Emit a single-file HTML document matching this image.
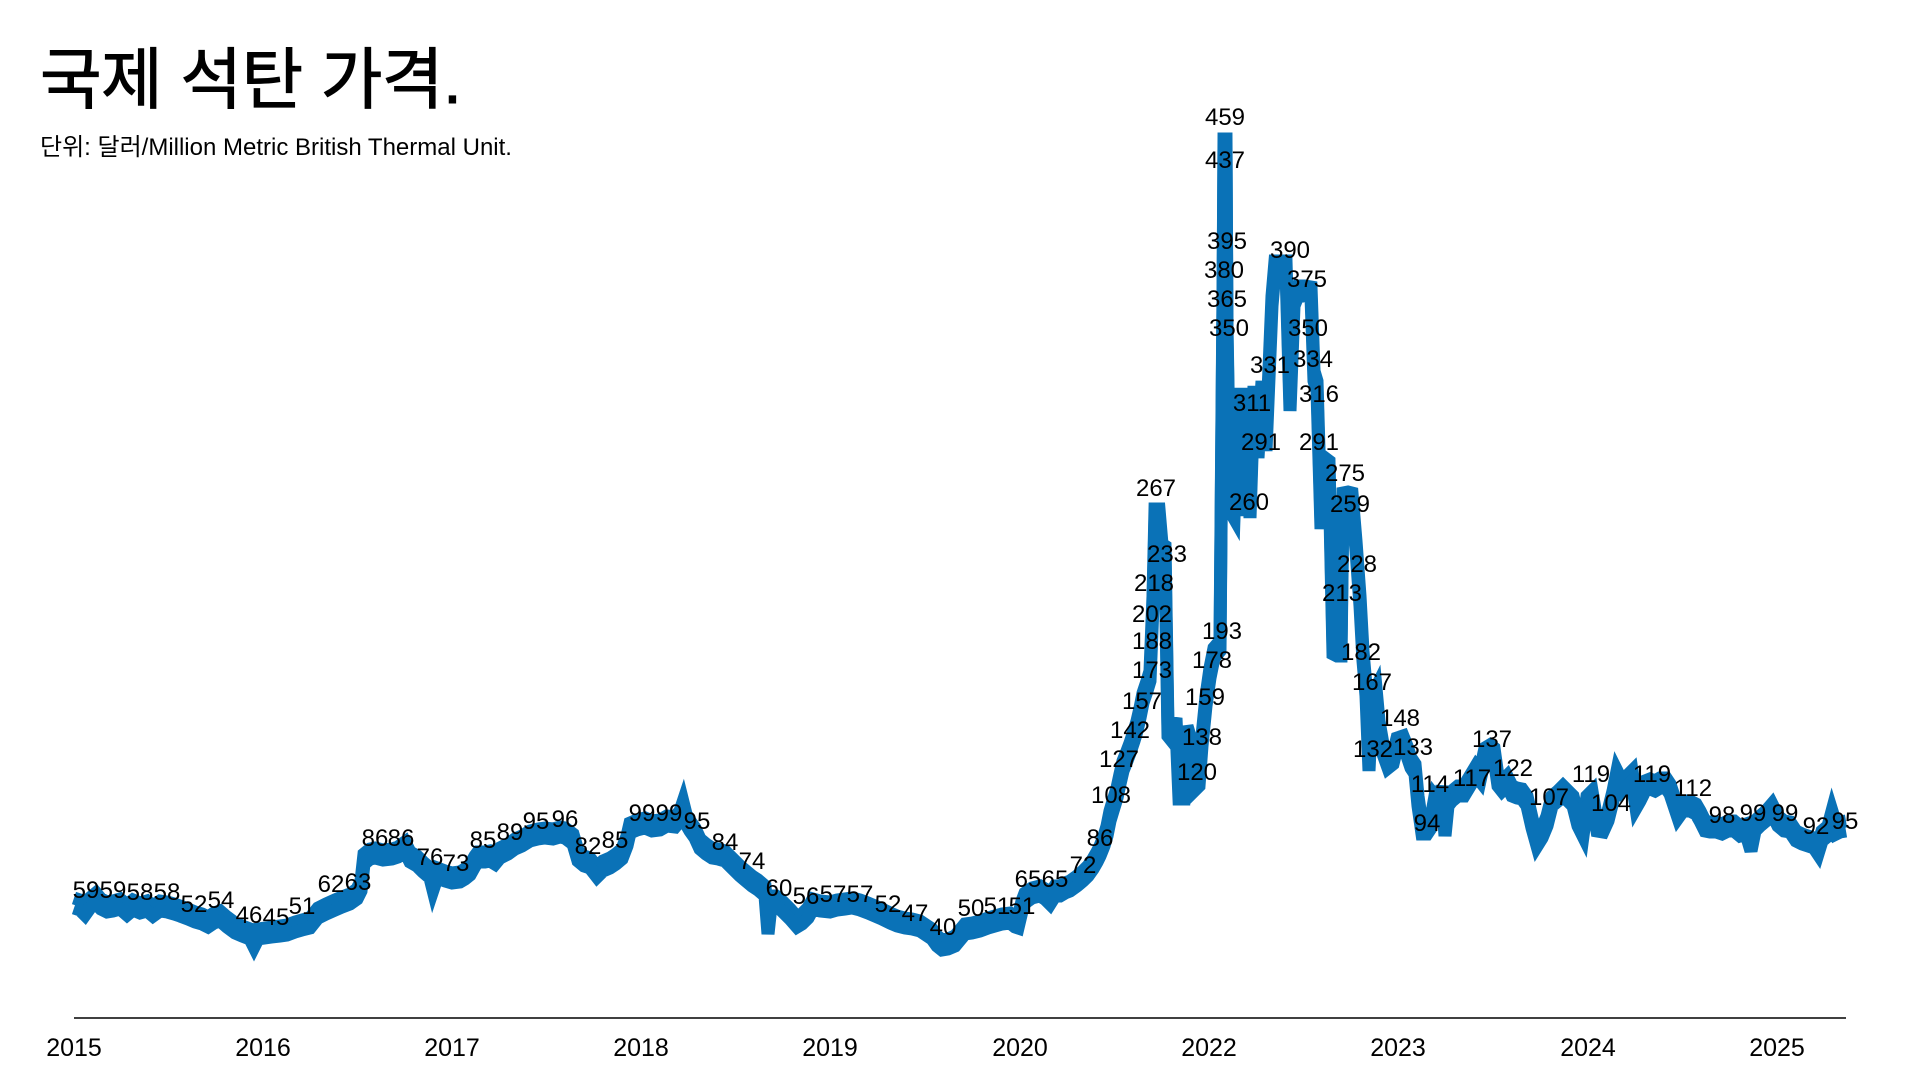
<!DOCTYPE html>
<html lang="ko">
<head>
<meta charset="utf-8">
<style>
  html,body{margin:0;padding:0;background:#fff;}
  body{width:1920px;height:1080px;overflow:hidden;}
  svg{display:block;}
  .t{font-family:"Liberation Sans","Noto Sans CJK KR",sans-serif;fill:#000;}
  .lbl{font-family:"Liberation Sans",sans-serif;font-size:24px;fill:#000;text-anchor:middle;}
  .yr{font-family:"Liberation Sans",sans-serif;font-size:25px;fill:#000;text-anchor:middle;}
</style>
</head>
<body>
<svg width="1920" height="1080" viewBox="0 0 1920 1080" xmlns="http://www.w3.org/2000/svg">
  <rect width="1920" height="1080" fill="#fff"/>

  <text class="t" x="40" y="103" font-size="67" font-weight="normal" letter-spacing="-0.5" stroke="#000" stroke-width="1">국제 석탄 가격.</text>
  <text class="t" x="40" y="155" font-size="24">단위: 달러/Million Metric British Thermal Unit.</text>

  <g fill="none" stroke="#0a72b7" stroke-width="13" stroke-linejoin="miter">
    <polyline transform="translate(0,-4)" points="74,902 80,904 85,909 90,902 96,897 101,903 107,906 113,905 120,903 127,909 133,904 140,907 147,905 153,910 160,905 167,906 174,908 180,910 188,913 195,916 202,918 208,921 214,917 220,915 227,921 235,927 242,930 250,933 254,941 258,933 265,932 272,931 280,930 287,929 295,926 302,924 310,922 318,912 326,908 335,904 342,901 350,898 357,893 361,885 364,858 370,853 375,852 383,854 392,853 398,851 405,846 410,856 417,860 423,866 430,872 433,884 437,872 445,875 452,877 460,876 465,873 470,869 475,860 478,856 485,856 490,855 495,858 500,852 508,848 515,843 522,840 530,835 538,833 545,832 553,833 560,831 565,832 573,838 578,855 584,860 590,862 597,871 603,865 610,862 616,858 622,853 627,840 630,827 637,824 645,822 652,825 660,824 667,820 675,821 680,815 683,806 686,818 690,825 695,832 700,843 706,848 712,852 718,853 725,855 732,862 740,870 746,875 752,880 758,884 765,890 768,928 771,900 776,900 780,903 785,908 790,913 797,921 802,918 808,912 813,903 820,905 830,906 837,904 845,903 852,902 860,904 868,907 875,910 882,913 890,917 897,920 905,922 912,923 920,925 926,929 932,933 937,940 942,944 948,943 955,940 960,934 965,928 972,927 980,925 988,922 995,920 1002,918 1010,917 1015,921 1018,922 1022,905 1025,897 1032,892 1040,890 1045,893 1050,898 1055,890 1060,890 1065,887 1070,885 1077,880 1083,875 1088,870 1093,863 1097,856 1100,850 1104,840 1107,830 1110,815 1113,805 1117,792 1120,778 1123,765 1127,755 1130,747 1134,735 1137,725 1140,712 1143,697 1147,685 1150,675 1153,600 1155,513 1159,513 1162,548 1165,550 1168,730 1172,735 1176,722 1179,793 1184,793 1187,730 1190,740 1194,785 1199,780 1202,740 1206,700 1210,672 1214,652 1220,645 1223,300 1224,143 1226,143 1227,330 1230,505 1234,512 1238,392 1242,510 1246,392 1250,512 1254,390 1258,452 1262,385 1266,445 1269,372 1272,300 1275,265 1280,265 1286,265 1290,405 1294,300 1298,290 1305,290 1311,291 1314,375 1317,385 1321,523 1325,462 1329,465 1333,648 1337,650 1341,650 1343,497 1348,496 1352,497 1356,545 1360,600 1363,655 1366,690 1369,765 1372,700 1376,692 1379,725 1383,748 1388,762 1393,758 1397,742 1403,740 1407,750 1411,762 1415,768 1418,800 1422,828 1427,828 1431,822 1435,800 1439,805 1442,790 1445,830 1448,800 1452,795 1458,790 1464,790 1470,780 1476,770 1480,775 1485,752 1490,749 1494,752 1498,780 1502,785 1507,780 1512,790 1517,792 1522,793 1527,800 1532,822 1537,840 1542,832 1547,820 1552,800 1558,795 1563,790 1568,795 1573,800 1578,820 1583,830 1587,800 1592,795 1597,825 1603,826 1608,815 1613,795 1617,775 1622,785 1627,780 1632,775 1636,802 1640,795 1645,785 1650,783 1655,785 1660,782 1666,782 1670,788 1674,800 1678,812 1683,805 1690,805 1696,808 1700,815 1705,825 1710,826 1716,826 1722,828 1728,825 1734,825 1740,830 1746,828 1751,845 1755,825 1760,820 1766,815 1772,808 1778,820 1784,825 1790,826 1796,835 1802,838 1808,840 1814,842 1818,848 1822,835 1828,830 1832,815 1836,828 1840,826 1846,825"/>
    <polyline transform="translate(0,6)" points="74,902 80,904 85,909 90,902 96,897 101,903 107,906 113,905 120,903 127,909 133,904 140,907 147,905 153,910 160,905 167,906 174,908 180,910 188,913 195,916 202,918 208,921 214,917 220,915 227,921 235,927 242,930 250,933 254,941 258,933 265,932 272,931 280,930 287,929 295,926 302,924 310,922 318,912 326,908 335,904 342,901 350,898 357,893 361,885 364,858 370,853 375,852 383,854 392,853 398,851 405,846 410,856 417,860 423,866 430,872 433,884 437,872 445,875 452,877 460,876 465,873 470,869 475,860 478,856 485,856 490,855 495,858 500,852 508,848 515,843 522,840 530,835 538,833 545,832 553,833 560,831 565,832 573,838 578,855 584,860 590,862 597,871 603,865 610,862 616,858 622,853 627,840 630,827 637,824 645,822 652,825 660,824 667,820 675,821 680,815 683,806 686,818 690,825 695,832 700,843 706,848 712,852 718,853 725,855 732,862 740,870 746,875 752,880 758,884 765,890 768,928 771,900 776,900 780,903 785,908 790,913 797,921 802,918 808,912 813,903 820,905 830,906 837,904 845,903 852,902 860,904 868,907 875,910 882,913 890,917 897,920 905,922 912,923 920,925 926,929 932,933 937,940 942,944 948,943 955,940 960,934 965,928 972,927 980,925 988,922 995,920 1002,918 1010,917 1015,921 1018,922 1022,905 1025,897 1032,892 1040,890 1045,893 1050,898 1055,890 1060,890 1065,887 1070,885 1077,880 1083,875 1088,870 1093,863 1097,856 1100,850 1104,840 1107,830 1110,815 1113,805 1117,792 1120,778 1123,765 1127,755 1130,747 1134,735 1137,725 1140,712 1143,697 1147,685 1150,675 1153,600 1155,513 1159,513 1162,548 1165,550 1168,730 1172,735 1176,722 1179,793 1184,793 1187,730 1190,740 1194,785 1199,780 1202,740 1206,700 1210,672 1214,652 1220,645 1223,300 1224,143 1226,143 1227,330 1230,505 1234,512 1238,392 1242,510 1246,392 1250,512 1254,390 1258,452 1262,385 1266,445 1269,372 1272,300 1275,265 1280,265 1286,265 1290,405 1294,300 1298,290 1305,290 1311,291 1314,375 1317,385 1321,523 1325,462 1329,465 1333,648 1337,650 1341,650 1343,497 1348,496 1352,497 1356,545 1360,600 1363,655 1366,690 1369,765 1372,700 1376,692 1379,725 1383,748 1388,762 1393,758 1397,742 1403,740 1407,750 1411,762 1415,768 1418,800 1422,828 1427,828 1431,822 1435,800 1439,805 1442,790 1445,830 1448,800 1452,795 1458,790 1464,790 1470,780 1476,770 1480,775 1485,752 1490,749 1494,752 1498,780 1502,785 1507,780 1512,790 1517,792 1522,793 1527,800 1532,822 1537,840 1542,832 1547,820 1552,800 1558,795 1563,790 1568,795 1573,800 1578,820 1583,830 1587,800 1592,795 1597,825 1603,826 1608,815 1613,795 1617,775 1622,785 1627,780 1632,775 1636,802 1640,795 1645,785 1650,783 1655,785 1660,782 1666,782 1670,788 1674,800 1678,812 1683,805 1690,805 1696,808 1700,815 1705,825 1710,826 1716,826 1722,828 1728,825 1734,825 1740,830 1746,828 1751,845 1755,825 1760,820 1766,815 1772,808 1778,820 1784,825 1790,826 1796,835 1802,838 1808,840 1814,842 1818,848 1822,835 1828,830 1832,815 1836,828 1840,826 1846,825"/>
  </g>

  <line x1="74" y1="1018" x2="1846" y2="1018" stroke="#000" stroke-width="1.6"/>

  <g>
    <text class="yr" x="74" y="1056">2015</text>
    <text class="yr" x="263" y="1056">2016</text>
    <text class="yr" x="452" y="1056">2017</text>
    <text class="yr" x="641" y="1056">2018</text>
    <text class="yr" x="830" y="1056">2019</text>
    <text class="yr" x="1020" y="1056">2020</text>
    <text class="yr" x="1209" y="1056">2022</text>
    <text class="yr" x="1398" y="1056">2023</text>
    <text class="yr" x="1588" y="1056">2024</text>
    <text class="yr" x="1777" y="1056">2025</text>
  </g>

  <g>
    <text class="lbl" x="86" y="898">59</text>
    <text class="lbl" x="113" y="898">59</text>
    <text class="lbl" x="140" y="900">58</text>
    <text class="lbl" x="167" y="900">58</text>
    <text class="lbl" x="194" y="912">52</text>
    <text class="lbl" x="221" y="908">54</text>
    <text class="lbl" x="249" y="923">46</text>
    <text class="lbl" x="276" y="925">45</text>
    <text class="lbl" x="302" y="914">51</text>
    <text class="lbl" x="331" y="892">62</text>
    <text class="lbl" x="358" y="890">63</text>
    <text class="lbl" x="375" y="846">86</text>
    <text class="lbl" x="401" y="846">86</text>
    <text class="lbl" x="430" y="865">76</text>
    <text class="lbl" x="456" y="871">73</text>
    <text class="lbl" x="483" y="848">85</text>
    <text class="lbl" x="510" y="840">89</text>
    <text class="lbl" x="536" y="829">95</text>
    <text class="lbl" x="565" y="827">96</text>
    <text class="lbl" x="588" y="854">82</text>
    <text class="lbl" x="615" y="848">85</text>
    <text class="lbl" x="642" y="821">99</text>
    <text class="lbl" x="669" y="821">99</text>
    <text class="lbl" x="697" y="829">95</text>
    <text class="lbl" x="725" y="850">84</text>
    <text class="lbl" x="752" y="869">74</text>
    <text class="lbl" x="779" y="896">60</text>
    <text class="lbl" x="806" y="904">56</text>
    <text class="lbl" x="833" y="902">57</text>
    <text class="lbl" x="860" y="902">57</text>
    <text class="lbl" x="888" y="912">52</text>
    <text class="lbl" x="915" y="921">47</text>
    <text class="lbl" x="943" y="935">40</text>
    <text class="lbl" x="971" y="916">50</text>
    <text class="lbl" x="997" y="914">51</text>
    <text class="lbl" x="1022" y="914">51</text>
    <text class="lbl" x="1028" y="887">65</text>
    <text class="lbl" x="1055" y="887">65</text>
    <text class="lbl" x="1083" y="873">72</text>
    <text class="lbl" x="1100" y="846">86</text>
    <text class="lbl" x="1111" y="803">108</text>
    <text class="lbl" x="1119" y="767">127</text>
    <text class="lbl" x="1130" y="738">142</text>
    <text class="lbl" x="1142" y="709">157</text>
    <text class="lbl" x="1152" y="678">173</text>
    <text class="lbl" x="1152" y="649">188</text>
    <text class="lbl" x="1152" y="622">202</text>
    <text class="lbl" x="1154" y="591">218</text>
    <text class="lbl" x="1167" y="562">233</text>
    <text class="lbl" x="1156" y="496">267</text>
    <text class="lbl" x="1197" y="780">120</text>
    <text class="lbl" x="1202" y="745">138</text>
    <text class="lbl" x="1205" y="705">159</text>
    <text class="lbl" x="1212" y="668">178</text>
    <text class="lbl" x="1222" y="639">193</text>
    <text class="lbl" x="1229" y="336">350</text>
    <text class="lbl" x="1227" y="307">365</text>
    <text class="lbl" x="1224" y="278">380</text>
    <text class="lbl" x="1227" y="249">395</text>
    <text class="lbl" x="1225" y="168">437</text>
    <text class="lbl" x="1225" y="125">459</text>
    <text class="lbl" x="1249" y="510">260</text>
    <text class="lbl" x="1252" y="411">311</text>
    <text class="lbl" x="1261" y="450">291</text>
    <text class="lbl" x="1270" y="373">331</text>
    <text class="lbl" x="1290" y="258">390</text>
    <text class="lbl" x="1307" y="287">375</text>
    <text class="lbl" x="1308" y="336">350</text>
    <text class="lbl" x="1313" y="367">334</text>
    <text class="lbl" x="1319" y="402">316</text>
    <text class="lbl" x="1319" y="450">291</text>
    <text class="lbl" x="1345" y="481">275</text>
    <text class="lbl" x="1350" y="512">259</text>
    <text class="lbl" x="1342" y="601">213</text>
    <text class="lbl" x="1357" y="572">228</text>
    <text class="lbl" x="1361" y="660">182</text>
    <text class="lbl" x="1372" y="690">167</text>
    <text class="lbl" x="1400" y="726">148</text>
    <text class="lbl" x="1373" y="757">132</text>
    <text class="lbl" x="1413" y="755">133</text>
    <text class="lbl" x="1430" y="792">114</text>
    <text class="lbl" x="1427" y="831">94</text>
    <text class="lbl" x="1472" y="786">117</text>
    <text class="lbl" x="1492" y="747">137</text>
    <text class="lbl" x="1513" y="776">122</text>
    <text class="lbl" x="1549" y="805">107</text>
    <text class="lbl" x="1591" y="782">119</text>
    <text class="lbl" x="1611" y="811">104</text>
    <text class="lbl" x="1652" y="782">119</text>
    <text class="lbl" x="1693" y="796">112</text>
    <text class="lbl" x="1722" y="823">98</text>
    <text class="lbl" x="1753" y="821">99</text>
    <text class="lbl" x="1785" y="821">99</text>
    <text class="lbl" x="1816" y="834">92</text>
    <text class="lbl" x="1845" y="829">95</text>
  </g>
</svg>
</body>
</html>
